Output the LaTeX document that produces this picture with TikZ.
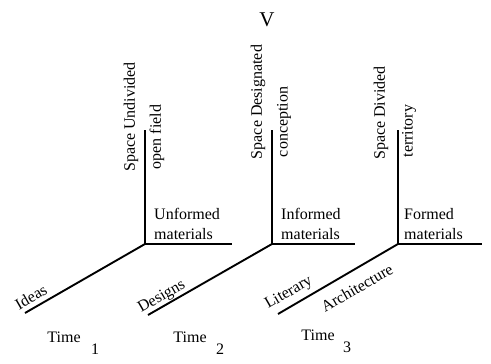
\documentclass[tikz,border=0pt]{standalone}
\usepackage{fontspec}
\setmainfont{Liberation Serif}
\begin{document}
\begin{tikzpicture}[x=1pt,y=-1pt,
  axis/.style={line width=1.9pt, line cap=butt},
  lbl/.style={inner sep=0pt, font=\fontsize{16}{20}\selectfont},
  mat/.style={lbl, align=left, anchor=west}]
\useasboundingbox (0,0) rectangle (491,364);
% axis 1
\coordinate (o1) at (145,244);
\coordinate (t1) at (145,130);
\coordinate (h1) at (232,244);
\coordinate (d1) at (25,313);
% axis 2
\coordinate (o2) at (272,244);
\coordinate (t2) at (272,130);
\coordinate (h2) at (355,244);
\coordinate (d2) at (148,315);
% axis 3
\coordinate (o3) at (398,244);
\coordinate (t3) at (398,130);
\coordinate (h3) at (482,244);
\coordinate (d3) at (278,314);
\foreach \i in {1,2,3}{
  \draw[axis] (t\i) -- (o\i) -- (h\i);
  \draw[axis] (o\i) -- (d\i);
}
\node[lbl, font=\fontsize{21}{24}\selectfont] (v) at (267,20) {V};
% vertical labels
\node[lbl, rotate=90] (su) at (131,117) {Space Undivided};
\node[lbl, rotate=90] (of) at (157,137) {open field};
\node[lbl, rotate=90] (sd) at (258,102) {Space Designated};
\node[lbl, rotate=90] (co) at (284,122) {conception};
\node[lbl, rotate=90] (sv) at (381,113) {Space Divided};
\node[lbl, rotate=90] (te) at (409,131) {territory};
% material labels
\node[mat] (um) at (154,224) {Unformed\\materials};
\node[mat] (im) at (281,224) {Informed\\materials};
\node[mat] (fm) at (404,224) {Formed\\materials};
% diagonal labels
\node[lbl, rotate=30] (id) at (31,297) {Ideas};
\node[lbl, rotate=30] (de) at (162,297) {Designs};
\node[lbl, rotate=30] (li) at (289,293) {Literary};
\node[lbl, rotate=30] (ar) at (357,288) {Architecture};
% time labels
\node[lbl] (tm1) at (64,337) {Time};
\node[lbl] (n1) at (95,349) {1};
\node[lbl] (tm2) at (190,337) {Time};
\node[lbl] (n2) at (220,349) {2};
\node[lbl] (tm3) at (318,335) {Time};
\node[lbl] (n3) at (347,347) {3};
\end{tikzpicture}
\end{document}
